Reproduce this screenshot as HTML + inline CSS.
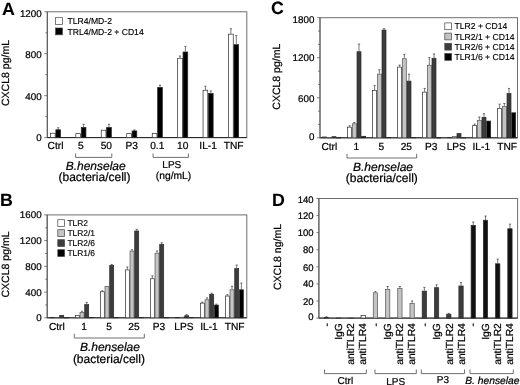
<!DOCTYPE html>
<html lang="en"><head><meta charset="utf-8"><title>CXCL8 figure</title>
<style>
html,body{margin:0;padding:0;background:#fff;}
body{width:520px;height:385px;overflow:hidden;}
svg{display:block;font-family:"Liberation Sans", Arial, Helvetica, sans-serif;fill:#000;text-rendering:geometricPrecision;filter:blur(0.3px);}
svg text{stroke:#000;stroke-width:0.22px;}
</style></head><body>
<svg width="520" height="385" viewBox="0 0 520 385">
<rect width="520" height="385" fill="#fff"/>
<text x="2.1" y="14.6" font-size="17.8" font-weight="bold" style="stroke-width:0.1px">A</text>
<rect x="47.3" y="11.8" width="199.5" height="125.8" fill="none" stroke="#6e6e6e" stroke-width="1"/>
<path d="M47.3 11.8V137.6" fill="none" stroke="#555" stroke-width="0.9"/>
<path d="M47.3 137.6H246.8" fill="none" stroke="#222" stroke-width="1"/>
<line x1="44.3" y1="137.60" x2="47.3" y2="137.60" stroke="#555" stroke-width="0.75"/>
<line x1="45.3" y1="116.63" x2="47.3" y2="116.63" stroke="#555" stroke-width="0.75"/>
<line x1="44.3" y1="95.67" x2="47.3" y2="95.67" stroke="#555" stroke-width="0.75"/>
<line x1="45.3" y1="74.70" x2="47.3" y2="74.70" stroke="#555" stroke-width="0.75"/>
<line x1="44.3" y1="53.73" x2="47.3" y2="53.73" stroke="#555" stroke-width="0.75"/>
<line x1="45.3" y1="32.77" x2="47.3" y2="32.77" stroke="#555" stroke-width="0.75"/>
<line x1="44.3" y1="11.80" x2="47.3" y2="11.80" stroke="#555" stroke-width="0.75"/>
<text x="41.70" y="141.01" font-size="9.8" text-anchor="end">0</text>
<text x="41.70" y="99.51" font-size="9.8" text-anchor="end">400</text>
<text x="41.70" y="58.01" font-size="9.8" text-anchor="end">800</text>
<text x="41.70" y="16.51" font-size="9.8" text-anchor="end">1200</text>
<text transform="translate(9.3 73) rotate(-90)" font-size="10.5" text-anchor="middle">CXCL8 pg/mL</text>
<rect x="50.45" y="133.23" width="4.70" height="4.37" fill="#ffffff" stroke="#2a2a2a" stroke-width="0.7"/>
<path d="M58.20 129.42V127.75M57.10 127.75H59.30" stroke="#2e2e2e" stroke-width="0.65" fill="none"/>
<rect x="55.85" y="129.77" width="4.70" height="7.83" fill="#000000" stroke="#2a2a2a" stroke-width="0.7"/>
<rect x="75.85" y="133.65" width="4.70" height="3.95" fill="#ffffff" stroke="#2a2a2a" stroke-width="0.7"/>
<path d="M83.60 127.01V124.29M82.50 124.29H84.70" stroke="#2e2e2e" stroke-width="0.65" fill="none"/>
<rect x="81.25" y="127.36" width="4.70" height="10.24" fill="#000000" stroke="#2a2a2a" stroke-width="0.7"/>
<rect x="101.25" y="130.19" width="4.70" height="7.41" fill="#ffffff" stroke="#2a2a2a" stroke-width="0.7"/>
<path d="M109.00 127.01V124.29M107.90 124.29H110.10" stroke="#2e2e2e" stroke-width="0.65" fill="none"/>
<rect x="106.65" y="127.36" width="4.70" height="10.24" fill="#000000" stroke="#2a2a2a" stroke-width="0.7"/>
<rect x="126.70" y="133.65" width="4.70" height="3.95" fill="#ffffff" stroke="#2a2a2a" stroke-width="0.7"/>
<path d="M134.45 130.58V129.95M133.35 129.95H135.55" stroke="#2e2e2e" stroke-width="0.65" fill="none"/>
<rect x="132.10" y="130.93" width="4.70" height="6.67" fill="#000000" stroke="#2a2a2a" stroke-width="0.7"/>
<rect x="152.25" y="133.55" width="4.70" height="4.05" fill="#ffffff" stroke="#2a2a2a" stroke-width="0.7"/>
<path d="M160.00 87.07V85.18M158.90 85.18H161.10" stroke="#2e2e2e" stroke-width="0.65" fill="none"/>
<rect x="157.65" y="87.42" width="4.70" height="50.18" fill="#000000" stroke="#2a2a2a" stroke-width="0.7"/>
<path d="M180.00 57.93V56.04M178.90 56.04H181.10" stroke="#2e2e2e" stroke-width="0.65" fill="none"/>
<rect x="177.65" y="58.28" width="4.70" height="79.32" fill="#ffffff" stroke="#2a2a2a" stroke-width="0.7"/>
<path d="M185.40 51.64V46.39M184.30 46.39H186.50" stroke="#2e2e2e" stroke-width="0.65" fill="none"/>
<rect x="183.05" y="51.99" width="4.70" height="85.61" fill="#000000" stroke="#2a2a2a" stroke-width="0.7"/>
<path d="M205.40 89.90V86.23M204.30 86.23H206.50" stroke="#2e2e2e" stroke-width="0.65" fill="none"/>
<rect x="203.05" y="90.25" width="4.70" height="47.35" fill="#ffffff" stroke="#2a2a2a" stroke-width="0.7"/>
<path d="M210.80 93.05V90.95M209.70 90.95H211.90" stroke="#2e2e2e" stroke-width="0.65" fill="none"/>
<rect x="208.45" y="93.40" width="4.70" height="44.20" fill="#000000" stroke="#2a2a2a" stroke-width="0.7"/>
<path d="M230.90 33.81V28.78M229.80 28.78H232.00" stroke="#2e2e2e" stroke-width="0.65" fill="none"/>
<rect x="228.55" y="34.16" width="4.70" height="103.44" fill="#ffffff" stroke="#2a2a2a" stroke-width="0.7"/>
<path d="M236.30 44.30V35.49M235.20 35.49H237.40" stroke="#2e2e2e" stroke-width="0.65" fill="none"/>
<rect x="233.95" y="44.65" width="4.70" height="92.95" fill="#000000" stroke="#2a2a2a" stroke-width="0.7"/>
<text x="55.5" y="148.8" font-size="10.2" text-anchor="middle">Ctrl</text>
<text x="80.9" y="148.8" font-size="10.2" text-anchor="middle">5</text>
<text x="106.3" y="148.8" font-size="10.2" text-anchor="middle">50</text>
<text x="131.75" y="148.8" font-size="10.2" text-anchor="middle">P3</text>
<text x="157.3" y="148.8" font-size="10.2" text-anchor="middle">0.1</text>
<text x="182.7" y="148.8" font-size="10.2" text-anchor="middle">10</text>
<text x="208.1" y="148.8" font-size="10.2" text-anchor="middle">IL-1</text>
<text x="233.6" y="148.8" font-size="10.2" text-anchor="middle">TNF</text>
<path d="M75.6 153.5V157.4H111.8V153.5" fill="none" stroke="#606060" stroke-width="0.9"/>
<path d="M153.1 153.5V157.4H188.4V153.5" fill="none" stroke="#606060" stroke-width="0.9"/>
<text x="95.7" y="169.5" font-size="12" font-style="italic" text-anchor="middle">B.henselae</text>
<text x="94.5" y="181" font-size="12" text-anchor="middle">(bacteria/cell)</text>
<text x="171.8" y="168" font-size="10" text-anchor="middle">LPS</text>
<text x="173.5" y="178.5" font-size="10.3" text-anchor="middle">(ng/mL)</text>
<rect x="55.599999999999994" y="17.7" width="6.8" height="6.8" fill="#ffffff" stroke="#444" stroke-width="0.7"/>
<text x="67.5" y="24.20" font-size="8.6" style="stroke-width:0.14px">TLR4/MD-2</text>
<rect x="55.599999999999994" y="28.0" width="6.8" height="6.8" fill="#000000" stroke="#444" stroke-width="0.7"/>
<text x="67.5" y="34.50" font-size="8.6" style="stroke-width:0.14px">TRL4/MD-2 + CD14</text>
<text x="271.0" y="14.2" font-size="17.8" font-weight="bold" style="stroke-width:0.1px">C</text>
<rect x="320" y="17.7" width="197.5" height="120.10000000000001" fill="none" stroke="#6e6e6e" stroke-width="1"/>
<path d="M320 17.7V137.8" fill="none" stroke="#555" stroke-width="0.9"/>
<path d="M320 137.8H517.5" fill="none" stroke="#222" stroke-width="1"/>
<line x1="317" y1="137.80" x2="320" y2="137.80" stroke="#555" stroke-width="0.75"/>
<line x1="318" y1="124.46" x2="320" y2="124.46" stroke="#555" stroke-width="0.75"/>
<line x1="318" y1="111.11" x2="320" y2="111.11" stroke="#555" stroke-width="0.75"/>
<line x1="317" y1="97.77" x2="320" y2="97.77" stroke="#555" stroke-width="0.75"/>
<line x1="318" y1="84.42" x2="320" y2="84.42" stroke="#555" stroke-width="0.75"/>
<line x1="318" y1="71.08" x2="320" y2="71.08" stroke="#555" stroke-width="0.75"/>
<line x1="317" y1="57.73" x2="320" y2="57.73" stroke="#555" stroke-width="0.75"/>
<line x1="318" y1="44.39" x2="320" y2="44.39" stroke="#555" stroke-width="0.75"/>
<line x1="318" y1="31.04" x2="320" y2="31.04" stroke="#555" stroke-width="0.75"/>
<line x1="317" y1="17.70" x2="320" y2="17.70" stroke="#555" stroke-width="0.75"/>
<text x="314.40" y="140.31" font-size="9.8" text-anchor="end">0</text>
<text x="314.40" y="102.01" font-size="9.8" text-anchor="end">600</text>
<text x="314.40" y="60.91" font-size="9.8" text-anchor="end">1200</text>
<text x="314.40" y="23.01" font-size="9.8" text-anchor="end">1800</text>
<text transform="translate(280.1 76.7) rotate(-90)" font-size="10.5" text-anchor="middle">CXCL8 pg/mL</text>
<rect x="322.65" y="136.95" width="3.98" height="0.85" fill="#ffffff" stroke="#2a2a2a" stroke-width="0.7"/>
<rect x="327.33" y="137.75" width="3.98" height="0.20" fill="#c4c4c4" stroke="#555" stroke-width="0.7"/>
<rect x="332.01" y="136.68" width="3.98" height="1.12" fill="#3c3c3c" stroke="#2a2a2a" stroke-width="0.7"/>
<rect x="336.69" y="137.82" width="3.98" height="0.20" fill="#000000" stroke="#2a2a2a" stroke-width="0.7"/>
<path d="M349.64 126.79V125.79M348.54 125.79H350.74" stroke="#2e2e2e" stroke-width="0.65" fill="none"/>
<rect x="347.65" y="127.14" width="3.98" height="10.66" fill="#ffffff" stroke="#2a2a2a" stroke-width="0.7"/>
<path d="M354.32 123.45V122.45M353.22 122.45H355.42" stroke="#2e2e2e" stroke-width="0.65" fill="none"/>
<rect x="352.33" y="123.80" width="3.98" height="14.00" fill="#c4c4c4" stroke="#555" stroke-width="0.7"/>
<path d="M359.00 51.39V44.06M357.90 44.06H360.10" stroke="#2e2e2e" stroke-width="0.65" fill="none"/>
<rect x="357.01" y="51.74" width="3.98" height="86.06" fill="#3c3c3c" stroke="#2a2a2a" stroke-width="0.7"/>
<rect x="361.69" y="136.28" width="3.98" height="1.52" fill="#000000" stroke="#2a2a2a" stroke-width="0.7"/>
<path d="M374.64 90.09V85.42M373.54 85.42H375.74" stroke="#2e2e2e" stroke-width="0.65" fill="none"/>
<rect x="372.65" y="90.44" width="3.98" height="47.36" fill="#ffffff" stroke="#2a2a2a" stroke-width="0.7"/>
<path d="M379.32 73.75V69.74M378.22 69.74H380.42" stroke="#2e2e2e" stroke-width="0.65" fill="none"/>
<rect x="377.33" y="74.10" width="3.98" height="63.70" fill="#c4c4c4" stroke="#555" stroke-width="0.7"/>
<path d="M384.00 29.71V28.71M382.90 28.71H385.10" stroke="#2e2e2e" stroke-width="0.65" fill="none"/>
<rect x="382.01" y="30.06" width="3.98" height="107.74" fill="#3c3c3c" stroke="#2a2a2a" stroke-width="0.7"/>
<rect x="386.69" y="137.62" width="3.98" height="0.20" fill="#000000" stroke="#2a2a2a" stroke-width="0.7"/>
<path d="M399.64 66.74V65.07M398.54 65.07H400.74" stroke="#2e2e2e" stroke-width="0.65" fill="none"/>
<rect x="397.65" y="67.09" width="3.98" height="70.71" fill="#ffffff" stroke="#2a2a2a" stroke-width="0.7"/>
<path d="M404.32 58.40V54.40M403.22 54.40H405.42" stroke="#2e2e2e" stroke-width="0.65" fill="none"/>
<rect x="402.33" y="58.75" width="3.98" height="79.05" fill="#c4c4c4" stroke="#555" stroke-width="0.7"/>
<path d="M409.00 80.75V74.08M407.90 74.08H410.10" stroke="#2e2e2e" stroke-width="0.65" fill="none"/>
<rect x="407.01" y="81.10" width="3.98" height="56.70" fill="#3c3c3c" stroke="#2a2a2a" stroke-width="0.7"/>
<rect x="411.69" y="137.62" width="3.98" height="0.20" fill="#000000" stroke="#2a2a2a" stroke-width="0.7"/>
<path d="M424.64 91.76V88.43M423.54 88.43H425.74" stroke="#2e2e2e" stroke-width="0.65" fill="none"/>
<rect x="422.65" y="92.11" width="3.98" height="45.69" fill="#ffffff" stroke="#2a2a2a" stroke-width="0.7"/>
<path d="M429.32 64.94V57.60M428.22 57.60H430.42" stroke="#2e2e2e" stroke-width="0.65" fill="none"/>
<rect x="427.33" y="65.29" width="3.98" height="72.51" fill="#c4c4c4" stroke="#555" stroke-width="0.7"/>
<path d="M434.00 57.93V53.93M432.90 53.93H435.10" stroke="#2e2e2e" stroke-width="0.65" fill="none"/>
<rect x="432.01" y="58.28" width="3.98" height="79.52" fill="#3c3c3c" stroke="#2a2a2a" stroke-width="0.7"/>
<rect x="436.69" y="137.82" width="3.98" height="0.20" fill="#000000" stroke="#2a2a2a" stroke-width="0.7"/>
<rect x="447.65" y="137.48" width="3.98" height="0.32" fill="#ffffff" stroke="#2a2a2a" stroke-width="0.7"/>
<rect x="452.33" y="136.55" width="3.98" height="1.25" fill="#c4c4c4" stroke="#555" stroke-width="0.7"/>
<rect x="457.01" y="133.61" width="3.98" height="4.19" fill="#3c3c3c" stroke="#2a2a2a" stroke-width="0.7"/>
<rect x="461.69" y="137.82" width="3.98" height="0.20" fill="#000000" stroke="#2a2a2a" stroke-width="0.7"/>
<path d="M474.64 125.12V124.12M473.54 124.12H475.74" stroke="#2e2e2e" stroke-width="0.65" fill="none"/>
<rect x="472.65" y="125.47" width="3.98" height="12.33" fill="#ffffff" stroke="#2a2a2a" stroke-width="0.7"/>
<path d="M479.32 119.99V116.98M478.22 116.98H480.42" stroke="#2e2e2e" stroke-width="0.65" fill="none"/>
<rect x="477.33" y="120.34" width="3.98" height="17.46" fill="#c4c4c4" stroke="#555" stroke-width="0.7"/>
<path d="M484.00 116.98V113.65M482.90 113.65H485.10" stroke="#2e2e2e" stroke-width="0.65" fill="none"/>
<rect x="482.01" y="117.33" width="3.98" height="20.47" fill="#3c3c3c" stroke="#2a2a2a" stroke-width="0.7"/>
<rect x="486.69" y="121.07" width="3.98" height="16.73" fill="#000000" stroke="#2a2a2a" stroke-width="0.7"/>
<path d="M499.64 108.18V104.17M498.54 104.17H500.74" stroke="#2e2e2e" stroke-width="0.65" fill="none"/>
<rect x="497.65" y="108.53" width="3.98" height="29.27" fill="#ffffff" stroke="#2a2a2a" stroke-width="0.7"/>
<path d="M504.32 106.17V103.50M503.22 103.50H505.42" stroke="#2e2e2e" stroke-width="0.65" fill="none"/>
<rect x="502.33" y="106.52" width="3.98" height="31.28" fill="#c4c4c4" stroke="#555" stroke-width="0.7"/>
<path d="M509.00 93.10V88.43M507.90 88.43H510.10" stroke="#2e2e2e" stroke-width="0.65" fill="none"/>
<rect x="507.01" y="93.45" width="3.98" height="44.35" fill="#3c3c3c" stroke="#2a2a2a" stroke-width="0.7"/>
<rect x="511.69" y="112.80" width="3.98" height="25.00" fill="#000000" stroke="#2a2a2a" stroke-width="0.7"/>
<text x="329.30" y="149.9" font-size="10.2" text-anchor="middle">Ctrl</text>
<text x="356.30" y="149.9" font-size="10.2" text-anchor="middle">1</text>
<text x="381.30" y="149.9" font-size="10.2" text-anchor="middle">5</text>
<text x="406.30" y="149.9" font-size="10.2" text-anchor="middle">25</text>
<text x="431.30" y="149.9" font-size="10.2" text-anchor="middle">P3</text>
<text x="456.30" y="149.9" font-size="10.2" text-anchor="middle">LPS</text>
<text x="481.30" y="149.9" font-size="10.2" text-anchor="middle">IL-1</text>
<text x="507.10" y="149.9" font-size="10.2" text-anchor="middle">TNF</text>
<path d="M347 153.8V158H416.7V153.8" fill="none" stroke="#606060" stroke-width="0.9"/>
<text x="383" y="171.2" font-size="12" font-style="italic" text-anchor="middle">B.henselae</text>
<text x="381.8" y="182.4" font-size="12" text-anchor="middle">(bacteria/cell)</text>
<rect x="444.8" y="22.9" width="6.8" height="6.8" fill="#ffffff" stroke="#444" stroke-width="0.7"/>
<text x="454.5" y="29.40" font-size="8.6" style="stroke-width:0.14px">TLR2 + CD14</text>
<rect x="444.8" y="33.1" width="6.8" height="6.8" fill="#c4c4c4" stroke="#444" stroke-width="0.7"/>
<text x="454.5" y="39.60" font-size="8.6" style="stroke-width:0.14px">TLR2/1 + CD14</text>
<rect x="444.8" y="43.300000000000004" width="6.8" height="6.8" fill="#3c3c3c" stroke="#444" stroke-width="0.7"/>
<text x="454.5" y="49.80" font-size="8.6" style="stroke-width:0.14px">TLR2/6 + CD14</text>
<rect x="444.8" y="53.5" width="6.8" height="6.8" fill="#000000" stroke="#444" stroke-width="0.7"/>
<text x="454.5" y="60.00" font-size="8.6" style="stroke-width:0.14px">TLR1/6 + CD14</text>
<text x="0.0" y="205.5" font-size="17.8" font-weight="bold" style="stroke-width:0.1px">B</text>
<rect x="47.2" y="214.9" width="199.60000000000002" height="102.9" fill="none" stroke="#6e6e6e" stroke-width="1"/>
<path d="M47.2 214.9V317.8" fill="none" stroke="#555" stroke-width="0.9"/>
<path d="M47.2 317.8H246.8" fill="none" stroke="#222" stroke-width="1"/>
<line x1="44.2" y1="317.80" x2="47.2" y2="317.80" stroke="#555" stroke-width="0.75"/>
<line x1="45.2" y1="304.94" x2="47.2" y2="304.94" stroke="#555" stroke-width="0.75"/>
<line x1="44.2" y1="292.07" x2="47.2" y2="292.07" stroke="#555" stroke-width="0.75"/>
<line x1="45.2" y1="279.21" x2="47.2" y2="279.21" stroke="#555" stroke-width="0.75"/>
<line x1="44.2" y1="266.35" x2="47.2" y2="266.35" stroke="#555" stroke-width="0.75"/>
<line x1="45.2" y1="253.49" x2="47.2" y2="253.49" stroke="#555" stroke-width="0.75"/>
<line x1="44.2" y1="240.62" x2="47.2" y2="240.62" stroke="#555" stroke-width="0.75"/>
<line x1="45.2" y1="227.76" x2="47.2" y2="227.76" stroke="#555" stroke-width="0.75"/>
<line x1="44.2" y1="214.90" x2="47.2" y2="214.90" stroke="#555" stroke-width="0.75"/>
<text x="41.60" y="321.41" font-size="9.8" text-anchor="end">0</text>
<text x="41.60" y="295.63" font-size="9.8" text-anchor="end">400</text>
<text x="41.60" y="269.86" font-size="9.8" text-anchor="end">800</text>
<text x="41.60" y="244.08" font-size="9.8" text-anchor="end">1200</text>
<text x="41.60" y="218.31" font-size="9.8" text-anchor="end">1600</text>
<text transform="translate(9.2 264.5) rotate(-90)" font-size="10.5" text-anchor="middle">CXCL8 pg/mL</text>
<rect x="50.35" y="317.64" width="3.98" height="0.20" fill="#ffffff" stroke="#2a2a2a" stroke-width="0.7"/>
<rect x="55.03" y="317.38" width="3.98" height="0.42" fill="#c4c4c4" stroke="#555" stroke-width="0.7"/>
<rect x="59.71" y="315.32" width="3.98" height="2.48" fill="#3c3c3c" stroke="#2a2a2a" stroke-width="0.7"/>
<rect x="64.39" y="317.76" width="3.98" height="0.20" fill="#000000" stroke="#2a2a2a" stroke-width="0.7"/>
<rect x="75.35" y="315.32" width="3.98" height="2.48" fill="#ffffff" stroke="#2a2a2a" stroke-width="0.7"/>
<path d="M82.02 312.01V311.24M80.92 311.24H83.12" stroke="#2e2e2e" stroke-width="0.65" fill="none"/>
<rect x="80.03" y="312.36" width="3.98" height="5.44" fill="#c4c4c4" stroke="#555" stroke-width="0.7"/>
<path d="M86.70 304.29V302.37M85.60 302.37H87.80" stroke="#2e2e2e" stroke-width="0.65" fill="none"/>
<rect x="84.71" y="304.64" width="3.98" height="13.16" fill="#3c3c3c" stroke="#2a2a2a" stroke-width="0.7"/>
<rect x="89.39" y="317.51" width="3.98" height="0.29" fill="#000000" stroke="#2a2a2a" stroke-width="0.7"/>
<path d="M102.34 291.43V290.79M101.24 290.79H103.44" stroke="#2e2e2e" stroke-width="0.65" fill="none"/>
<rect x="100.35" y="291.78" width="3.98" height="26.02" fill="#ffffff" stroke="#2a2a2a" stroke-width="0.7"/>
<rect x="105.03" y="286.32" width="3.98" height="31.48" fill="#c4c4c4" stroke="#555" stroke-width="0.7"/>
<path d="M111.70 265.06V264.42M110.60 264.42H112.80" stroke="#2e2e2e" stroke-width="0.65" fill="none"/>
<rect x="109.71" y="265.41" width="3.98" height="52.39" fill="#3c3c3c" stroke="#2a2a2a" stroke-width="0.7"/>
<rect x="114.39" y="317.51" width="3.98" height="0.29" fill="#000000" stroke="#2a2a2a" stroke-width="0.7"/>
<path d="M127.34 269.57V266.99M126.24 266.99H128.44" stroke="#2e2e2e" stroke-width="0.65" fill="none"/>
<rect x="125.35" y="269.92" width="3.98" height="47.88" fill="#ffffff" stroke="#2a2a2a" stroke-width="0.7"/>
<path d="M132.02 250.72V249.76M130.92 249.76H133.12" stroke="#2e2e2e" stroke-width="0.65" fill="none"/>
<rect x="130.03" y="251.07" width="3.98" height="66.73" fill="#c4c4c4" stroke="#555" stroke-width="0.7"/>
<path d="M136.70 230.66V229.37M135.60 229.37H137.80" stroke="#2e2e2e" stroke-width="0.65" fill="none"/>
<rect x="134.71" y="231.01" width="3.98" height="86.79" fill="#3c3c3c" stroke="#2a2a2a" stroke-width="0.7"/>
<rect x="139.39" y="317.51" width="3.98" height="0.29" fill="#000000" stroke="#2a2a2a" stroke-width="0.7"/>
<path d="M152.34 278.38V275.80M151.24 275.80H153.44" stroke="#2e2e2e" stroke-width="0.65" fill="none"/>
<rect x="150.35" y="278.73" width="3.98" height="39.07" fill="#ffffff" stroke="#2a2a2a" stroke-width="0.7"/>
<path d="M157.02 252.84V250.92M155.92 250.92H158.12" stroke="#2e2e2e" stroke-width="0.65" fill="none"/>
<rect x="155.03" y="253.19" width="3.98" height="64.61" fill="#c4c4c4" stroke="#555" stroke-width="0.7"/>
<path d="M161.70 243.97V242.68M160.60 242.68H162.80" stroke="#2e2e2e" stroke-width="0.65" fill="none"/>
<rect x="159.71" y="244.32" width="3.98" height="73.48" fill="#3c3c3c" stroke="#2a2a2a" stroke-width="0.7"/>
<rect x="164.39" y="317.64" width="3.98" height="0.20" fill="#000000" stroke="#2a2a2a" stroke-width="0.7"/>
<rect x="175.35" y="317.51" width="3.98" height="0.29" fill="#ffffff" stroke="#2a2a2a" stroke-width="0.7"/>
<rect x="180.03" y="317.25" width="3.98" height="0.55" fill="#c4c4c4" stroke="#555" stroke-width="0.7"/>
<path d="M186.70 315.36V314.71M185.60 314.71H187.80" stroke="#2e2e2e" stroke-width="0.65" fill="none"/>
<rect x="184.71" y="315.71" width="3.98" height="2.09" fill="#3c3c3c" stroke="#2a2a2a" stroke-width="0.7"/>
<rect x="189.39" y="317.51" width="3.98" height="0.29" fill="#000000" stroke="#2a2a2a" stroke-width="0.7"/>
<path d="M202.34 302.75V302.11M201.24 302.11H203.44" stroke="#2e2e2e" stroke-width="0.65" fill="none"/>
<rect x="200.35" y="303.10" width="3.98" height="14.70" fill="#ffffff" stroke="#2a2a2a" stroke-width="0.7"/>
<path d="M207.02 299.47V297.86M205.92 297.86H208.12" stroke="#2e2e2e" stroke-width="0.65" fill="none"/>
<rect x="205.03" y="299.82" width="3.98" height="17.98" fill="#c4c4c4" stroke="#555" stroke-width="0.7"/>
<path d="M211.70 293.94V293.17M210.60 293.17H212.80" stroke="#2e2e2e" stroke-width="0.65" fill="none"/>
<rect x="209.71" y="294.29" width="3.98" height="23.51" fill="#3c3c3c" stroke="#2a2a2a" stroke-width="0.7"/>
<path d="M216.38 304.74V304.10M215.28 304.10H217.48" stroke="#2e2e2e" stroke-width="0.65" fill="none"/>
<rect x="214.39" y="305.09" width="3.98" height="12.71" fill="#000000" stroke="#2a2a2a" stroke-width="0.7"/>
<path d="M227.34 295.68V294.71M226.24 294.71H228.44" stroke="#2e2e2e" stroke-width="0.65" fill="none"/>
<rect x="225.35" y="296.03" width="3.98" height="21.77" fill="#ffffff" stroke="#2a2a2a" stroke-width="0.7"/>
<path d="M232.02 289.44V286.22M230.92 286.22H233.12" stroke="#2e2e2e" stroke-width="0.65" fill="none"/>
<rect x="230.03" y="289.79" width="3.98" height="28.01" fill="#c4c4c4" stroke="#555" stroke-width="0.7"/>
<path d="M236.70 268.28V265.06M235.60 265.06H237.80" stroke="#2e2e2e" stroke-width="0.65" fill="none"/>
<rect x="234.71" y="268.63" width="3.98" height="49.17" fill="#3c3c3c" stroke="#2a2a2a" stroke-width="0.7"/>
<path d="M241.38 289.44V283.01M240.28 283.01H242.48" stroke="#2e2e2e" stroke-width="0.65" fill="none"/>
<rect x="239.39" y="289.79" width="3.98" height="28.01" fill="#000000" stroke="#2a2a2a" stroke-width="0.7"/>
<text x="56.80" y="330" font-size="10.2" text-anchor="middle">Ctrl</text>
<text x="84.00" y="330" font-size="10.2" text-anchor="middle">1</text>
<text x="109.00" y="330" font-size="10.2" text-anchor="middle">5</text>
<text x="134.00" y="330" font-size="10.2" text-anchor="middle">25</text>
<text x="159.00" y="330" font-size="10.2" text-anchor="middle">P3</text>
<text x="184.00" y="330" font-size="10.2" text-anchor="middle">LPS</text>
<text x="209.00" y="330" font-size="10.2" text-anchor="middle">IL-1</text>
<text x="234.60" y="330" font-size="10.2" text-anchor="middle">TNF</text>
<path d="M74.3 333.8V338H144.3V333.8" fill="none" stroke="#606060" stroke-width="0.9"/>
<text x="109.9" y="351" font-size="12" font-style="italic" text-anchor="middle">B.henselae</text>
<text x="108.9" y="362.5" font-size="12" text-anchor="middle">(bacteria/cell)</text>
<rect x="57.8" y="219.7" width="6.8" height="6.8" fill="#ffffff" stroke="#444" stroke-width="0.7"/>
<text x="67.4" y="226.20" font-size="8.45" style="stroke-width:0.14px">TLR2</text>
<rect x="57.8" y="229.7" width="6.8" height="6.8" fill="#c4c4c4" stroke="#444" stroke-width="0.7"/>
<text x="67.4" y="236.20" font-size="8.45" style="stroke-width:0.14px">TLR2/1</text>
<rect x="57.8" y="239.7" width="6.8" height="6.8" fill="#3c3c3c" stroke="#444" stroke-width="0.7"/>
<text x="67.4" y="246.20" font-size="8.45" style="stroke-width:0.14px">TLR2/6</text>
<rect x="57.8" y="249.7" width="6.8" height="6.8" fill="#000000" stroke="#444" stroke-width="0.7"/>
<text x="67.4" y="256.20" font-size="8.45" style="stroke-width:0.14px">TLR1/6</text>
<text x="272.1" y="206.2" font-size="17.8" font-weight="bold" style="stroke-width:0.1px">D</text>
<rect x="318.9" y="198.5" width="198.70000000000005" height="119.60000000000002" fill="none" stroke="#6e6e6e" stroke-width="1"/>
<path d="M318.9 198.5V318.1" fill="none" stroke="#555" stroke-width="0.9"/>
<path d="M318.9 318.1H517.6" fill="none" stroke="#222" stroke-width="1"/>
<line x1="316.4" y1="318.10" x2="318.9" y2="318.10" stroke="#555" stroke-width="0.75"/>
<line x1="316.4" y1="301.01" x2="318.9" y2="301.01" stroke="#555" stroke-width="0.75"/>
<line x1="316.4" y1="283.93" x2="318.9" y2="283.93" stroke="#555" stroke-width="0.75"/>
<line x1="316.4" y1="266.84" x2="318.9" y2="266.84" stroke="#555" stroke-width="0.75"/>
<line x1="316.4" y1="249.76" x2="318.9" y2="249.76" stroke="#555" stroke-width="0.75"/>
<line x1="316.4" y1="232.67" x2="318.9" y2="232.67" stroke="#555" stroke-width="0.75"/>
<line x1="316.4" y1="215.59" x2="318.9" y2="215.59" stroke="#555" stroke-width="0.75"/>
<line x1="316.4" y1="198.50" x2="318.9" y2="198.50" stroke="#555" stroke-width="0.75"/>
<text x="313.60" y="320.40" font-size="9.5" text-anchor="end">0</text>
<text x="313.60" y="305.00" font-size="9.5" text-anchor="end">20</text>
<text x="313.60" y="287.40" font-size="9.5" text-anchor="end">40</text>
<text x="313.60" y="270.60" font-size="9.5" text-anchor="end">60</text>
<text x="313.60" y="253.20" font-size="9.5" text-anchor="end">80</text>
<text x="313.60" y="235.90" font-size="9.5" text-anchor="end">100</text>
<text x="313.60" y="218.70" font-size="9.5" text-anchor="end">120</text>
<text x="313.60" y="202.90" font-size="9.5" text-anchor="end">140</text>
<text transform="translate(280.6 257) rotate(-90)" font-size="10.5" text-anchor="middle">CXCL8 ng/mL</text>
<path d="M326.50 317.25V316.82M325.40 316.82H327.60" stroke="#2e2e2e" stroke-width="0.65" fill="none"/>
<rect x="324.35" y="317.60" width="4.30" height="0.50" fill="#ffffff" stroke="#2a2a2a" stroke-width="0.7"/>
<text transform="translate(329.60 323.2) rotate(-90)" font-size="10.25" text-anchor="end">-</text>
<rect x="336.58" y="318.02" width="4.30" height="0.20" fill="#ffffff" stroke="#2a2a2a" stroke-width="0.7"/>
<text transform="translate(341.83 323.2) rotate(-90)" font-size="10.25" text-anchor="end">IgG</text>
<rect x="348.81" y="318.15" width="4.30" height="0.20" fill="#ffffff" stroke="#2a2a2a" stroke-width="0.7"/>
<text transform="translate(354.06 323.2) rotate(-90)" font-size="10.25" text-anchor="end">antiTLR2</text>
<rect x="361.04" y="315.46" width="4.30" height="2.64" fill="#ffffff" stroke="#2a2a2a" stroke-width="0.7"/>
<text transform="translate(366.29 323.2) rotate(-90)" font-size="10.25" text-anchor="end">antiTLR4</text>
<path d="M375.42 292.47V291.62M374.32 291.62H376.52" stroke="#2e2e2e" stroke-width="0.65" fill="none"/>
<rect x="373.27" y="292.82" width="4.30" height="25.28" fill="#c4c4c4" stroke="#555" stroke-width="0.7"/>
<text transform="translate(378.52 323.2) rotate(-90)" font-size="10.25" text-anchor="end">-</text>
<path d="M387.65 289.05V286.49M386.55 286.49H388.75" stroke="#2e2e2e" stroke-width="0.65" fill="none"/>
<rect x="385.50" y="289.40" width="4.30" height="28.70" fill="#c4c4c4" stroke="#555" stroke-width="0.7"/>
<text transform="translate(390.75 323.2) rotate(-90)" font-size="10.25" text-anchor="end">IgG</text>
<path d="M399.88 288.20V286.49M398.78 286.49H400.98" stroke="#2e2e2e" stroke-width="0.65" fill="none"/>
<rect x="397.73" y="288.55" width="4.30" height="29.55" fill="#c4c4c4" stroke="#555" stroke-width="0.7"/>
<text transform="translate(402.98 323.2) rotate(-90)" font-size="10.25" text-anchor="end">antiTLR2</text>
<path d="M412.11 303.15V301.01M411.01 301.01H413.21" stroke="#2e2e2e" stroke-width="0.65" fill="none"/>
<rect x="409.96" y="303.50" width="4.30" height="14.60" fill="#c4c4c4" stroke="#555" stroke-width="0.7"/>
<text transform="translate(415.21 323.2) rotate(-90)" font-size="10.25" text-anchor="end">antiTLR4</text>
<path d="M424.34 290.76V287.35M423.24 287.35H425.44" stroke="#2e2e2e" stroke-width="0.65" fill="none"/>
<rect x="422.19" y="291.11" width="4.30" height="26.99" fill="#3c3c3c" stroke="#2a2a2a" stroke-width="0.7"/>
<text transform="translate(428.14 323.2) rotate(-90)" font-size="10.25" text-anchor="end">-</text>
<path d="M436.57 287.35V284.78M435.47 284.78H437.67" stroke="#2e2e2e" stroke-width="0.65" fill="none"/>
<rect x="434.42" y="287.70" width="4.30" height="30.40" fill="#3c3c3c" stroke="#2a2a2a" stroke-width="0.7"/>
<text transform="translate(440.37 323.2) rotate(-90)" font-size="10.25" text-anchor="end">IgG</text>
<path d="M448.80 313.83V313.40M447.70 313.40H449.90" stroke="#2e2e2e" stroke-width="0.65" fill="none"/>
<rect x="446.65" y="314.18" width="4.30" height="3.92" fill="#3c3c3c" stroke="#2a2a2a" stroke-width="0.7"/>
<text transform="translate(452.60 323.2) rotate(-90)" font-size="10.25" text-anchor="end">antiTLR2</text>
<path d="M461.03 285.64V282.65M459.93 282.65H462.13" stroke="#2e2e2e" stroke-width="0.65" fill="none"/>
<rect x="458.88" y="285.99" width="4.30" height="32.11" fill="#3c3c3c" stroke="#2a2a2a" stroke-width="0.7"/>
<text transform="translate(464.83 323.2) rotate(-90)" font-size="10.25" text-anchor="end">antiTLR4</text>
<path d="M473.26 224.98V221.99M472.16 221.99H474.36" stroke="#2e2e2e" stroke-width="0.65" fill="none"/>
<rect x="471.11" y="225.33" width="4.30" height="92.77" fill="#111" stroke="#2a2a2a" stroke-width="0.7"/>
<text transform="translate(476.36 323.2) rotate(-90)" font-size="10.25" text-anchor="end">-</text>
<path d="M485.49 219.86V216.01M484.39 216.01H486.59" stroke="#2e2e2e" stroke-width="0.65" fill="none"/>
<rect x="483.34" y="220.21" width="4.30" height="97.89" fill="#111" stroke="#2a2a2a" stroke-width="0.7"/>
<text transform="translate(488.59 323.2) rotate(-90)" font-size="10.25" text-anchor="end">IgG</text>
<path d="M497.72 263.43V259.15M496.62 259.15H498.82" stroke="#2e2e2e" stroke-width="0.65" fill="none"/>
<rect x="495.57" y="263.78" width="4.30" height="54.32" fill="#111" stroke="#2a2a2a" stroke-width="0.7"/>
<text transform="translate(500.82 323.2) rotate(-90)" font-size="10.25" text-anchor="end">antiTLR2</text>
<path d="M509.95 228.40V224.13M508.85 224.13H511.05" stroke="#2e2e2e" stroke-width="0.65" fill="none"/>
<rect x="507.80" y="228.75" width="4.30" height="89.35" fill="#111" stroke="#2a2a2a" stroke-width="0.7"/>
<text transform="translate(513.05 323.2) rotate(-90)" font-size="10.25" text-anchor="end">antiTLR4</text>
<path d="M324.5 369.5V373.6H366.3V369.5" fill="none" stroke="#606060" stroke-width="0.9"/>
<text x="345.40" y="383.6" font-size="10" text-anchor="middle">Ctrl</text>
<path d="M375 369.5V373.6H416.3V369.5" fill="none" stroke="#606060" stroke-width="0.9"/>
<text x="395.65" y="384.8" font-size="10" text-anchor="middle">LPS</text>
<path d="M421.3 369.5V373.6H464.5V369.5" fill="none" stroke="#606060" stroke-width="0.9"/>
<text x="442.90" y="382.6" font-size="10" text-anchor="middle">P3</text>
<path d="M470 369.5V373.6H513.3V369.5" fill="none" stroke="#606060" stroke-width="0.9"/>
<text x="465.2" y="383.7" font-size="10.3" font-style="italic">B. henselae</text>
</svg>
</body></html>
